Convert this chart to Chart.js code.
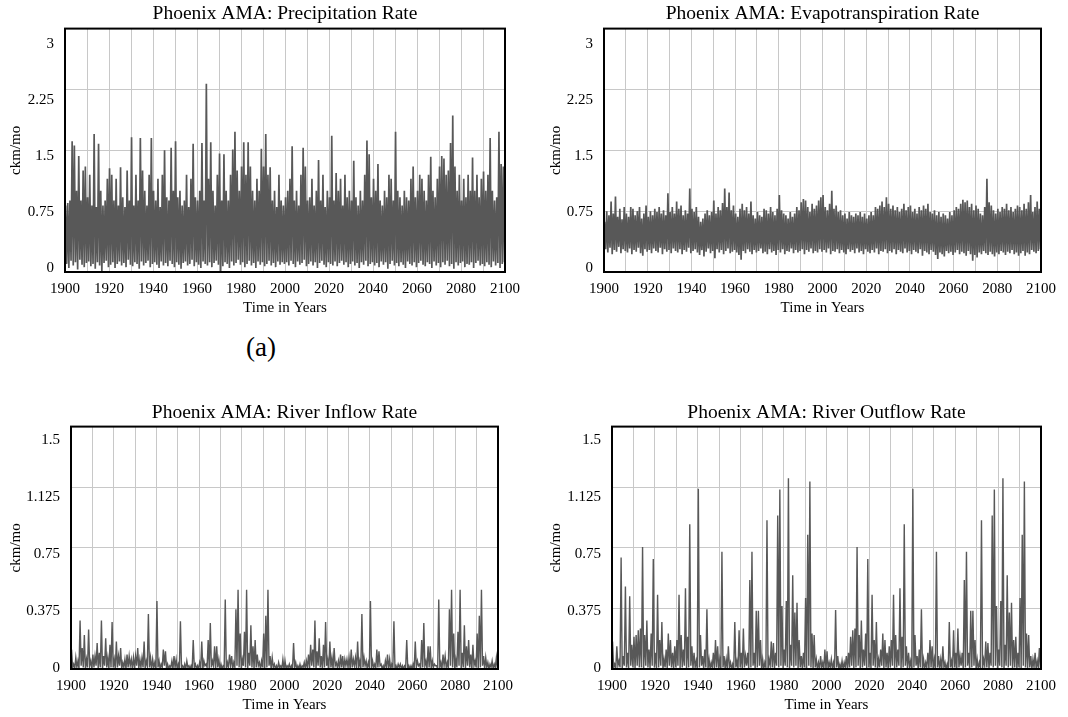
<!DOCTYPE html>
<html>
<head>
<meta charset="utf-8">
<script src="https://cdn.jsdelivr.net/npm/chart.js@4/dist/chart.umd.min.js"></script>
<style>
  html, body { margin: 0; padding: 0; background: #fff; }
  body { width: 1068px; height: 717px; position: relative; overflow: hidden; }
  .panel { position: absolute; }
  #lbl { position: absolute; left: 246px; top: 332px; font-family: 'Liberation Serif', serif; font-size: 27px; line-height: 30px; color: #000; }
</style>
</head>
<body>
<div class="panel" style="left:0px;top:0px;width:530px;height:320px"><canvas id="c1" width="530" height="320"></canvas></div>
<div class="panel" style="left:540px;top:0px;width:528px;height:320px"><canvas id="c2" width="528" height="320"></canvas></div>
<div class="panel" style="left:0px;top:395px;width:530px;height:322px"><canvas id="c3" width="530" height="322"></canvas></div>
<div class="panel" style="left:540px;top:395px;width:528px;height:322px"><canvas id="c4" width="528" height="322"></canvas></div>
<div id="lbl">(a)</div>
<script>
// ---------- data ----------
const startYear = 1900;
const xTickLabels = [1900, 1920, 1940, 1960, 1980, 2000, 2020, 2040, 2060, 2080, 2100];
const yTicksUpper = [0, 0.75, 1.5, 2.25, 3];
const yTicksLower = [0, 0.375, 0.75, 1.125, 1.5];
const titles = [
  'Phoenix AMA: Precipitation Rate',
  'Phoenix AMA: Evapotranspiration Rate',
  'Phoenix AMA: River Inflow Rate',
  'Phoenix AMA: River Outflow Rate'
];

// yearly highs / lows (ckm/mo), 1900..2099
const precipHigh = [
  0.82,0.85,0.88,1.61,1.56,1.00,1.43,0.88,1.25,1.30,
  0.92,1.20,0.82,1.70,0.80,1.58,1.00,0.82,0.88,1.15,
  1.28,1.20,0.88,1.15,0.82,1.29,0.92,0.80,1.25,0.88,
  1.66,0.82,1.20,0.88,1.65,1.25,1.00,0.82,1.20,1.65,
  1.00,0.88,1.15,0.80,1.20,1.50,0.92,0.88,1.53,1.00,
  1.61,0.92,1.00,0.82,0.88,1.20,0.80,1.15,1.58,0.92,
  0.88,1.00,1.59,0.88,2.32,1.15,1.60,1.00,0.82,1.20,
  1.46,0.88,1.45,1.00,0.88,1.20,1.51,1.73,1.25,1.00,
  1.30,1.60,1.20,1.60,1.30,1.00,0.88,1.15,1.00,1.52,
  1.30,1.70,1.20,1.29,0.88,1.00,0.80,1.20,0.88,0.82,
  0.92,1.00,1.15,1.55,0.88,1.00,0.82,1.20,1.53,1.30,
  0.88,0.92,1.15,0.82,1.00,1.38,0.88,1.20,0.80,1.00,
  0.92,1.68,0.88,1.22,1.00,1.15,0.82,1.20,0.92,1.00,
  0.88,1.37,0.92,0.82,1.00,0.88,1.20,1.62,1.45,0.92,
  1.15,1.00,1.33,0.88,0.82,1.00,0.92,1.20,1.15,0.88,
  1.73,1.00,0.92,0.82,1.00,0.92,0.88,1.15,1.30,0.92,
  1.00,1.20,1.15,1.00,0.88,1.20,1.42,1.00,0.92,1.15,
  1.30,1.43,1.40,1.20,1.25,1.59,1.93,1.30,1.00,1.20,
  0.88,1.15,0.92,1.20,1.00,1.41,1.00,1.20,0.92,1.15,
  1.24,1.00,1.20,1.65,1.00,0.88,0.92,1.73,1.33,1.30
];
const precipLow = [
  0.10,0.05,0.14,0.08,0.12,0.03,0.15,0.09,0.06,0.11,
  0.13,0.07,0.10,0.04,0.12,0.08,0.00,0.11,0.14,0.06,
  0.09,0.12,0.05,0.10,0.13,0.08,0.11,0.06,0.15,0.09,
  0.07,0.12,0.10,0.04,0.13,0.08,0.11,0.14,0.06,0.10,
  0.12,0.09,0.05,0.13,0.08,0.11,0.07,0.14,0.10,0.06,
  0.12,0.09,0.04,0.11,0.13,0.08,0.10,0.15,0.07,0.12,
  0.09,0.05,0.13,0.10,0.08,0.12,0.06,0.11,0.14,0.09,
  0.00,0.07,0.12,0.10,0.05,0.13,0.08,0.11,0.15,0.09,
  0.12,0.06,0.10,0.14,0.08,0.11,0.05,0.13,0.09,0.12,
  0.07,0.10,0.14,0.08,0.11,0.06,0.13,0.09,0.12,0.10,
  0.12,0.08,0.14,0.10,0.06,0.13,0.09,0.11,0.15,0.07,
  0.10,0.13,0.08,0.12,0.05,0.11,0.14,0.09,0.06,0.12,
  0.10,0.08,0.13,0.07,0.11,0.14,0.09,0.12,0.06,0.10,
  0.13,0.08,0.11,0.05,0.12,0.09,0.14,0.07,0.10,0.12,
  0.08,0.11,0.06,0.13,0.09,0.12,0.04,0.10,0.14,0.08,
  0.11,0.07,0.12,0.09,0.05,0.13,0.10,0.08,0.12,0.06,
  0.11,0.14,0.09,0.07,0.12,0.10,0.05,0.13,0.08,0.11,
  0.06,0.12,0.09,0.14,0.07,0.10,0.04,0.12,0.08,0.11,
  0.13,0.06,0.10,0.09,0.12,0.05,0.11,0.14,0.08,0.10,
  0.07,0.12,0.09,0.06,0.13,0.08,0.11,0.05,0.10,0.12
];
const evapHigh = [
  0.62,0.75,0.70,0.87,0.72,0.93,0.68,0.78,0.65,0.80,
  0.72,0.68,0.80,0.78,0.70,0.75,0.80,0.66,0.72,0.82,
  0.68,0.75,0.70,0.78,0.74,0.80,0.72,0.76,0.70,0.97,
  0.74,0.80,0.72,0.87,0.78,0.82,0.70,0.76,0.72,1.03,
  0.78,0.74,0.80,0.68,0.62,0.66,0.72,0.76,0.70,0.74,
  0.88,0.72,0.80,0.76,0.85,1.03,0.80,0.98,0.76,0.82,
  0.72,0.68,0.78,0.84,0.76,0.80,0.72,0.87,0.70,0.66,
  0.74,0.70,0.68,0.78,0.76,0.72,0.80,0.74,0.70,0.78,
  0.95,0.76,0.72,0.70,0.66,0.74,0.68,0.72,0.80,0.76,
  0.86,0.90,0.88,0.80,0.74,0.84,0.78,0.82,0.88,0.92,
  0.95,0.80,0.76,0.84,1.00,0.78,0.82,0.74,0.76,0.70,
  0.72,0.66,0.74,0.70,0.68,0.72,0.70,0.74,0.68,0.72,
  0.66,0.70,0.74,0.70,0.80,0.78,0.82,0.87,0.80,0.92,
  0.84,0.78,0.82,0.76,0.80,0.74,0.78,0.84,0.76,0.80,
  0.82,0.74,0.78,0.72,0.80,0.76,0.82,0.78,0.84,0.74,
  0.72,0.76,0.70,0.74,0.68,0.72,0.70,0.66,0.74,0.70,
  0.76,0.80,0.78,0.84,0.89,0.86,0.88,0.80,0.84,0.76,
  0.82,0.78,0.72,0.70,0.80,1.15,0.86,0.82,0.76,0.72,
  0.78,0.74,0.80,0.78,0.84,0.76,0.80,0.74,0.78,0.82,
  0.80,0.76,0.84,0.78,0.86,0.95,0.74,0.80,0.87,0.78
];
const evapLow = [
  0.28,0.24,0.30,0.22,0.27,0.25,0.31,0.23,0.28,0.26,
  0.24,0.29,0.22,0.27,0.25,0.30,0.23,0.20,0.28,0.25,
  0.27,0.23,0.29,0.26,0.24,0.30,0.22,0.28,0.25,0.27,
  0.23,0.29,0.26,0.24,0.28,0.22,0.27,0.25,0.30,0.23,
  0.26,0.28,0.24,0.21,0.27,0.19,0.25,0.29,0.23,0.26,
  0.17,0.28,0.24,0.27,0.22,0.26,0.29,0.23,0.25,0.27,
  0.24,0.21,0.15,0.26,0.23,0.28,0.25,0.22,0.27,0.24,
  0.26,0.29,0.23,0.25,0.22,0.28,0.24,0.26,0.21,0.27,
  0.24,0.28,0.22,0.26,0.25,0.29,0.23,0.27,0.24,0.26,
  0.28,0.22,0.27,0.25,0.29,0.23,0.26,0.24,0.28,0.25,
  0.27,0.24,0.29,0.22,0.26,0.25,0.28,0.23,0.27,0.24,
  0.22,0.28,0.25,0.27,0.23,0.29,0.24,0.26,0.22,0.28,
  0.25,0.23,0.27,0.24,0.29,0.22,0.26,0.25,0.28,0.23,
  0.26,0.24,0.28,0.22,0.27,0.25,0.23,0.29,0.24,0.26,
  0.22,0.27,0.25,0.23,0.28,0.20,0.26,0.24,0.22,0.27,
  0.25,0.21,0.16,0.24,0.22,0.19,0.26,0.23,0.25,0.21,
  0.24,0.27,0.22,0.25,0.23,0.20,0.26,0.22,0.14,0.21,
  0.18,0.24,0.22,0.26,0.23,0.21,0.25,0.22,0.19,0.24,
  0.22,0.26,0.24,0.21,0.25,0.23,0.27,0.22,0.24,0.20,
  0.23,0.26,0.20,0.24,0.22,0.27,0.25,0.23,0.26,0.28
];
const inflowHigh = [
  0.12,0.03,0.07,0.05,0.30,0.13,0.21,0.06,0.245,0.05,
  0.09,0.08,0.16,0.10,0.30,0.08,0.19,0.07,0.15,0.29,
  0.06,0.17,0.08,0.13,0.04,0.06,0.09,0.08,0.06,0.07,
  0.08,0.13,0.06,0.07,0.17,0.05,0.34,0.07,0.06,0.04,
  0.42,0.05,0.03,0.12,0.11,0.03,0.02,0.05,0.08,0.06,
  0.03,0.295,0.02,0.03,0.05,0.02,0.02,0.18,0.03,0.02,
  0.04,0.17,0.05,0.03,0.18,0.285,0.05,0.14,0.14,0.06,
  0.03,0.02,0.43,0.04,0.09,0.08,0.04,0.37,0.49,0.22,
  0.06,0.23,0.49,0.10,0.27,0.14,0.18,0.09,0.04,0.05,
  0.22,0.33,0.49,0.08,0.07,0.03,0.02,0.04,0.02,0.06,
  0.05,0.02,0.03,0.02,0.16,0.04,0.02,0.03,0.02,0.04,
  0.05,0.09,0.15,0.12,0.30,0.11,0.19,0.08,0.15,0.29,
  0.06,0.17,0.07,0.13,0.04,0.05,0.09,0.08,0.06,0.06,
  0.07,0.12,0.06,0.07,0.17,0.05,0.34,0.07,0.05,0.04,
  0.42,0.05,0.03,0.12,0.11,0.03,0.02,0.05,0.09,0.06,
  0.03,0.295,0.02,0.03,0.03,0.02,0.02,0.18,0.02,0.02,
  0.03,0.17,0.05,0.03,0.18,0.285,0.05,0.14,0.14,0.05,
  0.03,0.02,0.43,0.04,0.09,0.08,0.04,0.37,0.49,0.22,
  0.06,0.23,0.49,0.10,0.27,0.14,0.18,0.09,0.15,0.05,
  0.22,0.33,0.49,0.08,0.07,0.04,0.03,0.05,0.03,0.07
];
const inflowLow = [
  0.01,0.00,0.01,0.00,0.02,0.01,0.00,0.01,0.02,0.00,
  0.01,0.02,0.00,0.01,0.00,0.02,0.01,0.00,0.01,0.01,
  0.00,0.01,0.02,0.00,0.01,0.00,0.01,0.02,0.00,0.01,
  0.02,0.00,0.01,0.01,0.00,0.02,0.01,0.00,0.01,0.00,
  0.01,0.00,0.01,0.02,0.00,0.00,0.01,0.00,0.01,0.00,
  0.00,0.01,0.00,0.00,0.01,0.00,0.00,0.01,0.00,0.00,
  0.01,0.00,0.02,0.01,0.00,0.01,0.02,0.00,0.01,0.00,
  0.00,0.01,0.00,0.01,0.02,0.00,0.01,0.02,0.01,0.00,
  0.02,0.01,0.00,0.02,0.01,0.00,0.01,0.02,0.00,0.01,
  0.00,0.01,0.02,0.00,0.01,0.00,0.00,0.01,0.00,0.00,
  0.00,0.01,0.00,0.00,0.01,0.00,0.00,0.00,0.01,0.00,
  0.01,0.00,0.02,0.01,0.00,0.02,0.01,0.00,0.01,0.02,
  0.00,0.01,0.00,0.02,0.01,0.00,0.01,0.00,0.02,0.01,
  0.00,0.01,0.02,0.00,0.01,0.00,0.01,0.02,0.00,0.01,
  0.00,0.01,0.00,0.01,0.02,0.00,0.00,0.01,0.00,0.00,
  0.01,0.00,0.00,0.01,0.00,0.00,0.01,0.00,0.00,0.00,
  0.00,0.01,0.02,0.00,0.01,0.02,0.00,0.01,0.00,0.01,
  0.02,0.00,0.01,0.00,0.02,0.01,0.00,0.02,0.01,0.00,
  0.01,0.02,0.00,0.01,0.00,0.02,0.01,0.00,0.02,0.01,
  0.00,0.01,0.02,0.00,0.01,0.00,0.01,0.00,0.01,0.00
];
const outflowHigh = [
  0.17,0.03,0.14,0.05,0.69,0.08,0.51,0.10,0.45,0.15,
  0.20,0.21,0.24,0.25,0.755,0.21,0.30,0.12,0.22,0.68,
  0.10,0.46,0.18,0.29,0.06,0.12,0.22,0.18,0.10,0.14,
  0.18,0.46,0.21,0.12,0.50,0.20,0.895,0.14,0.10,0.05,
  1.115,0.21,0.08,0.12,0.37,0.06,0.04,0.10,0.18,0.14,
  0.06,0.725,0.08,0.06,0.14,0.04,0.03,0.29,0.05,0.24,
  0.10,0.25,0.08,0.10,0.55,0.725,0.10,0.36,0.36,0.18,
  0.06,0.04,0.92,0.06,0.17,0.16,0.10,0.95,1.11,0.39,
  0.12,0.42,1.18,0.15,0.58,0.35,0.41,0.18,0.08,0.10,
  0.44,0.83,1.16,0.22,0.21,0.06,0.04,0.08,0.04,0.12,
  0.11,0.04,0.06,0.04,0.365,0.08,0.03,0.05,0.04,0.08,
  0.10,0.20,0.24,0.25,0.755,0.21,0.30,0.12,0.22,0.68,
  0.10,0.46,0.18,0.29,0.06,0.12,0.22,0.18,0.10,0.14,
  0.18,0.46,0.21,0.12,0.50,0.20,0.895,0.14,0.10,0.05,
  1.115,0.21,0.08,0.12,0.37,0.06,0.04,0.10,0.18,0.14,
  0.06,0.725,0.08,0.06,0.14,0.04,0.03,0.29,0.05,0.24,
  0.10,0.25,0.08,0.10,0.55,0.725,0.10,0.36,0.36,0.18,
  0.06,0.04,0.92,0.06,0.17,0.16,0.10,0.95,1.11,0.39,
  0.12,0.42,1.18,0.15,0.58,0.35,0.41,0.18,0.20,0.10,
  0.44,0.83,1.16,0.22,0.21,0.08,0.06,0.10,0.05,0.13
];
const outflowLow = [
  0.01,0.00,0.02,0.01,0.00,0.02,0.01,0.00,0.02,0.01,
  0.00,0.02,0.01,0.01,0.00,0.02,0.01,0.00,0.02,0.01,
  0.00,0.01,0.02,0.00,0.01,0.00,0.02,0.01,0.00,0.01,
  0.02,0.00,0.01,0.02,0.00,0.01,0.02,0.00,0.01,0.00,
  0.01,0.02,0.00,0.01,0.00,0.00,0.01,0.00,0.01,0.00,
  0.00,0.01,0.00,0.00,0.01,0.00,0.00,0.01,0.00,0.01,
  0.00,0.01,0.02,0.00,0.01,0.02,0.00,0.01,0.02,0.00,
  0.00,0.01,0.00,0.02,0.01,0.00,0.02,0.01,0.02,0.00,
  0.02,0.01,0.00,0.02,0.01,0.02,0.00,0.01,0.00,0.01,
  0.00,0.02,0.01,0.00,0.01,0.00,0.00,0.01,0.00,0.00,
  0.00,0.01,0.00,0.00,0.01,0.00,0.00,0.00,0.01,0.00,
  0.01,0.02,0.00,0.01,0.02,0.00,0.01,0.02,0.00,0.01,
  0.00,0.02,0.01,0.00,0.01,0.02,0.00,0.01,0.00,0.01,
  0.02,0.00,0.01,0.02,0.00,0.01,0.02,0.00,0.01,0.00,
  0.01,0.02,0.00,0.01,0.00,0.00,0.01,0.00,0.01,0.00,
  0.00,0.01,0.00,0.00,0.01,0.00,0.00,0.01,0.00,0.01,
  0.00,0.01,0.02,0.00,0.01,0.02,0.00,0.01,0.02,0.00,
  0.00,0.01,0.00,0.02,0.01,0.00,0.02,0.01,0.02,0.00,
  0.02,0.01,0.00,0.02,0.01,0.02,0.00,0.01,0.00,0.01,
  0.00,0.02,0.01,0.00,0.01,0.00,0.01,0.00,0.01,0.00
];

// ---------- chart building ----------
const FONT = "'Liberation Serif', 'Times New Roman', serif";
const LINE = 'rgb(88,88,88)';
const GRID = '#c8c8c8';

function series(high, low) {
  const pts = [];
  for (let i = 0; i < high.length; i++) {
    pts.push({ x: startYear + i + 0.25, y: high[i] });
    pts.push({ x: startYear + i + 0.75, y: low[i] });
  }
  return pts;
}

const frame = {
  id: 'frame',
  afterDraw(chart) {
    const a = chart.chartArea, ctx = chart.ctx;
    ctx.save();
    ctx.strokeStyle = '#000';
    ctx.lineWidth = 2;
    ctx.strokeRect(a.left, a.top, a.right - a.left, a.bottom - a.top);
    ctx.restore();
  }
};

function makeChart(id, title, data, yTicks, lay) {
  const yMax = yTicks[yTicks.length - 1];
  const step = yTicks[1] - yTicks[0];
  new Chart(document.getElementById(id), {
    type: 'line',
    data: { datasets: [{ data: data, borderColor: LINE, borderWidth: lay.lw, pointRadius: 0, tension: 0, fill: false }] },
    options: {
      responsive: false,
      animation: false,
      events: [],
      layout: { padding: { left: 0, right: lay.right, top: 0, bottom: 0 } },
      plugins: {
        legend: { display: false },
        tooltip: { enabled: false },
        title: {
          display: true, text: title, color: '#000', fullSize: false,
          font: { family: FONT, size: 19.5, weight: 'normal' },
          padding: { top: lay.titleTop, bottom: lay.titleBottom }
        }
      },
      scales: {
        x: {
          type: 'linear', min: xTickLabels[0], max: xTickLabels[xTickLabels.length - 1],
          grid: { color: GRID, lineWidth: 1, drawTicks: false },
          border: { display: false },
          ticks: {
            stepSize: 10, autoSkip: false, maxRotation: 0, padding: 8, color: '#000',
            font: { family: FONT, size: 15 },
            callback: (v) => xTickLabels.includes(v) ? String(v) : ''
          },
          title: { display: true, text: 'Time in Years', color: '#000', font: { family: FONT, size: 15 }, padding: { top: 0, bottom: 3 } },
          afterFit: (s) => { s.height = lay.xH; }
        },
        y: {
          type: 'linear', position: 'left', min: 0, max: yMax,
          grid: { color: GRID, lineWidth: 1, drawTicks: false },
          border: { display: false },
          ticks: { stepSize: step, display: false },
          afterFit: (s) => { s.width = 0; }
        },
        yl: {
          type: 'linear', position: 'left', min: lay.lMin, max: lay.lMax,
          grid: { display: false, drawTicks: false },
          border: { display: false },
          afterBuildTicks: (s) => { s.ticks = yTicks.map(v => ({ value: v })); },
          ticks: {
            padding: 11, color: '#000', font: { family: FONT, size: 15 },
            callback: (v) => String(v)
          },
          title: { display: true, text: 'ckm/mo', color: '#000', font: { family: FONT, size: 15 }, padding: { top: 7, bottom: 0 } },
          afterFit: (s) => { s.width = lay.left; }
        }
      }
    },
    plugins: [frame]
  });
}

makeChart('c1', titles[0], series(precipHigh, precipLow), yTicksUpper,
  { left: 65, right: 25, xH: 48, titleTop: 2, titleBottom: 3.2, lMin: -0.054, lMax: 3.214, lw: 1.7 });
makeChart('c2', titles[1], series(evapHigh, evapLow), yTicksUpper,
  { left: 64, right: 27, xH: 48, titleTop: 2, titleBottom: 3.2, lMin: -0.054, lMax: 3.214, lw: 1.7 });
makeChart('c3', titles[2], series(inflowHigh, inflowLow), yTicksLower,
  { left: 71, right: 32, xH: 48, titleTop: 6, titleBottom: 2.2, lMin: -0.007, lMax: 1.592, lw: 1.4 });
makeChart('c4', titles[3], series(outflowHigh, outflowLow), yTicksLower,
  { left: 72, right: 27, xH: 48, titleTop: 6, titleBottom: 2.2, lMin: -0.007, lMax: 1.592, lw: 1.4 });
</script>
</body>
</html>
